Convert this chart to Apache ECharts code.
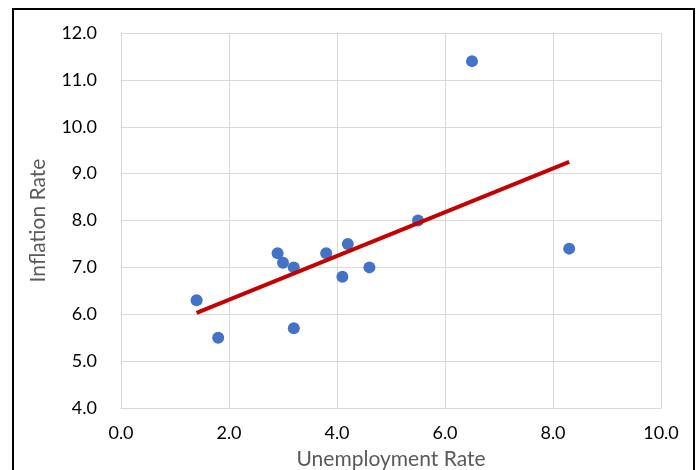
<!DOCTYPE html>
<html><head><meta charset="utf-8">
<script src="https://cdn.jsdelivr.net/npm/echarts@6/dist/echarts.min.js"></script>
<style>html,body{margin:0;padding:0;background:#fff}#c{width:699px;height:470px}</style>
</head><body><div id="c"></div>
<script>
const unemployment = [1.4, 1.8, 2.9, 3.0, 3.2, 3.2, 3.8, 4.1, 4.2, 4.6, 5.5, 6.5, 8.3];
const inflation    = [6.3, 5.5, 7.3, 7.1, 7.0, 5.7, 7.3, 6.8, 7.5, 7.0, 8.0, 11.4, 7.4];
const trendX = [1.4, 8.3];
const trendY = [6.03, 9.25];

const chart = echarts.init(document.getElementById('c'));
const font = 'Lato, "Liberation Sans", sans-serif';
chart.setOption({
  animation: false,
  grid: {left: 121, right: 38, top: 33, bottom: 62, containLabel: false, outerBoundsMode: 'none'},
  xAxis: {
    type: 'value', min: 0, max: 10, interval: 2,
    name: 'Unemployment Rate', nameLocation: 'middle', nameGap: 41,
    nameTextStyle: {color: '#595959', fontSize: 21, fontFamily: font},
    axisLine: {show: true, lineStyle: {color: '#d9d9d9', width: 1}},
    axisTick: {show: false},
    axisLabel: {color: '#000', fontSize: 18, fontFamily: font, margin: 16, formatter: v => v.toFixed(1)},
    splitLine: {show: true, lineStyle: {color: '#d9d9d9', width: 1}}
  },
  yAxis: {
    type: 'value', min: 4, max: 12, interval: 1,
    name: 'Inflation Rate', nameLocation: 'middle', nameGap: 72,
    nameTextStyle: {color: '#595959', fontSize: 21, fontFamily: font},
    axisLine: {show: true, lineStyle: {color: '#d9d9d9', width: 1}},
    axisTick: {show: false},
    axisLabel: {color: '#000', fontSize: 18, fontFamily: font, margin: 24, formatter: v => v.toFixed(1)},
    splitLine: {show: true, lineStyle: {color: '#d9d9d9', width: 1}}
  },
  graphic: [{
    type: 'rect', shape: {x: 13, y: 9, width: 681, height: 480},
    style: {fill: 'none', stroke: '#000', lineWidth: 2}, silent: true
  }],
  series: [{
    type: 'scatter', symbolSize: 12,
    itemStyle: {color: '#4472C4', opacity: 1},
    data: unemployment.map((x, i) => [x, inflation[i]]),
    z: 3
  }, {
    type: 'line', symbol: 'none',
    lineStyle: {color: '#C00000', width: 4},
    data: trendX.map((x, i) => [x, trendY[i]]),
    z: 4
  }]
});
</script></body></html>
